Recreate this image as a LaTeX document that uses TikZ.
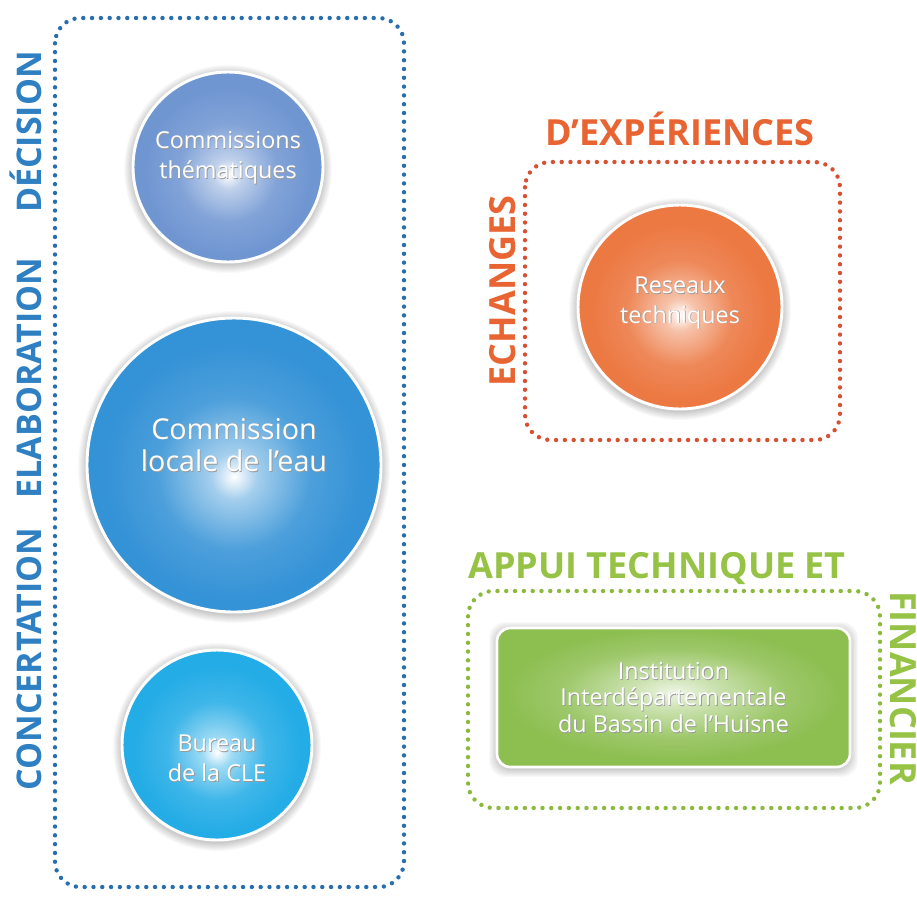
\documentclass[tikz,border=0pt]{standalone}
\usepackage{fontspec}
\setmainfont{Open Sans}
\definecolor{tblue}{RGB}{46,128,194}
\definecolor{dblue}{RGB}{40,110,175}
\definecolor{torange}{RGB}{232,100,50}
\definecolor{dorange}{RGB}{215,80,50}
\definecolor{tgreen}{RGB}{150,195,70}
\definecolor{dgreen}{RGB}{140,185,60}
\definecolor{cA}{RGB}{112,150,210}
\definecolor{cB}{RGB}{52,146,214}
\definecolor{cC}{RGB}{36,172,230}
\definecolor{cO}{RGB}{236,120,66}
\definecolor{cG}{RGB}{140,190,80}
\pgfdeclareradialshading{shA}{\pgfpoint{0bp}{-2bp}}{color(0bp)=(white); color(4bp)=(cA!45!white); color(13bp)=(cA!88!white); color(22bp)=(cA); color(50bp)=(cA)}
\pgfdeclareradialshading{shB}{\pgfpoint{0bp}{-2bp}}{color(0bp)=(white); color(4bp)=(cB!45!white); color(13bp)=(cB!88!white); color(22bp)=(cB); color(50bp)=(cB)}
\pgfdeclareradialshading{shC}{\pgfpoint{0bp}{-2bp}}{color(0bp)=(white); color(4bp)=(cC!45!white); color(13bp)=(cC!88!white); color(22bp)=(cC); color(50bp)=(cC)}
\pgfdeclareradialshading{shO}{\pgfpoint{0bp}{-2bp}}{color(0bp)=(white); color(4bp)=(cO!45!white); color(13bp)=(cO!88!white); color(22bp)=(cO); color(50bp)=(cO)}
\pgfdeclareradialshading{shG}{\pgfpoint{0bp}{2bp}}{color(0bp)=(white!85!cG); color(6bp)=(cG!45!white); color(16bp)=(cG!85!white); color(24bp)=(cG); color(50bp)=(cG)}
\tikzset{
  dotbox/.style={line width=3.3pt, dash pattern=on 0pt off 6.6pt, line cap=round, rounded corners=19pt},
  ball/.style={circle, draw=white, line width=2.2pt, inner sep=0pt},
  head/.style={font=\bfseries\fontsize{27}{29}\selectfont, inner sep=0pt, text height=19.4pt, text depth=0pt},
  sidehead/.style={font=\bfseries\fontsize{25.5}{27}\selectfont, inner sep=0pt, text height=18.3pt, text depth=0pt},
  lbl/.style={align=center, inner sep=0pt, text=white},
  lblsh/.style={align=center, inner sep=0pt, text=black!40, xshift=0.6pt, yshift=-0.6pt},
}
\begin{document}
\begin{tikzpicture}[x=0.75pt,y=-0.75pt]
\useasboundingbox[fill=white] (0,0) rectangle (917,896);
% ---------- left blue group
\draw[dotbox, dblue] (55,18) rectangle (404,887);
\node[sidehead, text=tblue, rotate=90] (hc) at (29,659) {CONCERTATION};
\node[sidehead, text=tblue, rotate=90] (he) at (29,378) {ELABORATION};
\node[sidehead, text=tblue, rotate=90] (hd) at (29,132) {DÉCISION};
% shadows
\foreach \cx/\cy/\r in {228/167/95, 234/465/147, 217/745/95, 680/307/102}{
  \foreach \i in {1,...,9}{
    \fill[black, opacity=0.022] (\cx,\cy+2) circle [radius={\r+\i}];
  }
}
\node[ball, shading=shA, minimum size=142.5pt] (c1) at (228,167) {};
\node[ball, shading=shB, minimum size=220.5pt] (c2) at (234,465) {};
\node[ball, shading=shC, minimum size=142.5pt] (c3) at (217,745) {};
\coordinate (p1) at (228,158);
\coordinate (p2) at (234,445);
\coordinate (p3) at (217,758);
\node[lblsh, font=\fontsize{17.5}{22.5}\selectfont] (t1s) at (p1) {Commissions\\thématiques};
\node[lbl, font=\fontsize{17.5}{22.5}\selectfont] (t1) at (p1) {Commissions\\thématiques};
\node[lblsh, font=\fontsize{21.5}{24.5}\selectfont] (t2s) at (p2) {Commission\\locale de l’eau};
\node[lbl, font=\fontsize{21.5}{24.5}\selectfont] (t2) at (p2) {Commission\\locale de l’eau};
\node[lblsh, font=\fontsize{17.5}{22.5}\selectfont] (t3s) at (p3) {Bureau\\de la CLE};
\node[lbl, font=\fontsize{17.5}{22.5}\selectfont] (t3) at (p3) {Bureau\\de la CLE};
% ---------- orange group
\node[head, text=torange] (hx) at (680,133) {D’EXPÉRIENCES};
\node[head, text=torange, rotate=90] (hh) at (503,291) {ECHANGES};
\draw[dotbox, dorange] (525,162) rectangle (840,440);
\node[ball, shading=shO, minimum size=153pt] (co) at (680,307) {};
\coordinate (po) at (680,303);
\node[lblsh, font=\fontsize{17.5}{22}\selectfont] (tos) at (po) {Reseaux\\techniques};
\node[lbl, font=\fontsize{17.5}{22}\selectfont] (to) at (po) {Reseaux\\techniques};
% ---------- green group
\node[head, text=tgreen] (ha) at (657,566) {APPUI TECHNIQUE ET};
\node[head, text=tgreen, rotate=-90] (hf) at (903,688) {FINANCIER};
\draw[dotbox, dgreen] (468,591) rectangle (880,808);
\foreach \i in {1,...,8}{
  \fill[black, opacity=0.022, rounded corners=12pt] (497-\i,628-\i+2) rectangle (850+\i,767+\i+2);
}
\node[rectangle, rounded corners=10pt, draw=white, line width=2pt, shading=shG,
      minimum width=264.75pt, minimum height=104.25pt] (gi) at (673.5,697.5) {};
\node[lblsh, font=\fontsize{17.5}{19.8}\selectfont] (tgs) at (gi) {Institution\\Interdépartementale\\du Bassin de l’Huisne};
\node[lbl, font=\fontsize{17.5}{19.8}\selectfont] (tg) at (gi) {Institution\\Interdépartementale\\du Bassin de l’Huisne};
\end{tikzpicture}
\end{document}
